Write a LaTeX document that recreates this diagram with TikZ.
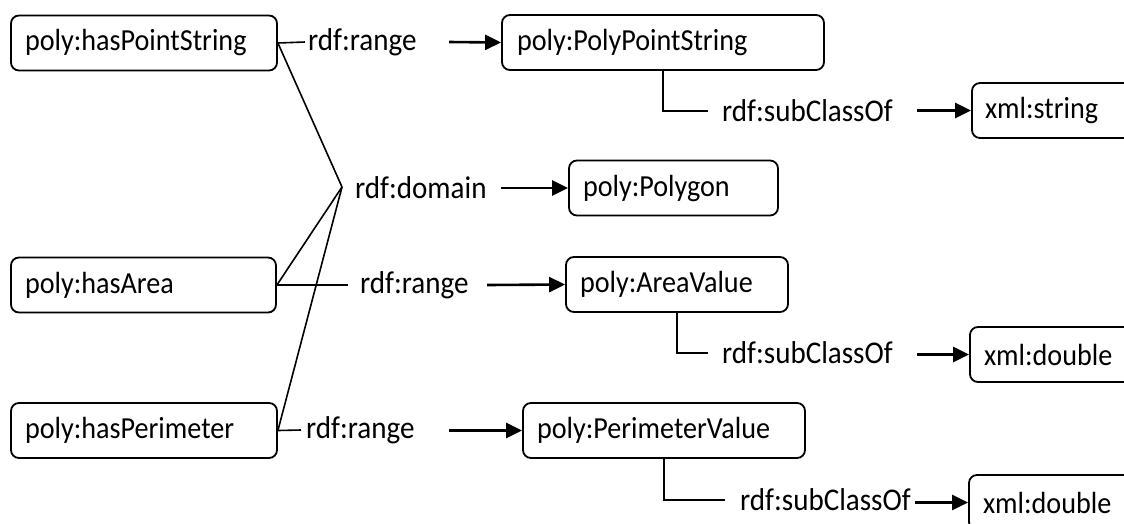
\documentclass[tikz,border=0pt]{standalone}
\usepackage{fontspec}
\setmainfont{Carlito}[FakeStretch=0.92]
\usetikzlibrary{arrows.meta,calc}

\tikzset{
  box/.style={draw=black, line width=1.8pt, rounded corners=8pt,
    minimum height=55pt, inner xsep=14pt, inner ysep=0pt, align=left,
    font=\fontsize{30.6}{34}\selectfont},
  lbl/.style={inner sep=0pt, anchor=west, font=\fontsize{31.6}{35}\selectfont},
  link/.style={draw=black, line width=1.6pt},
  pointer/.style={draw=black, line width=2.6pt,
    -{Triangle[length=16pt,width=15pt]}},
}

\begin{document}
\begin{tikzpicture}[x=1pt,y=-1pt]
\useasboundingbox (0,0) rectangle (1124,523);

% property boxes
\node[box, text width=238pt] (hps) at (144,43)  {poly:hasPointString};
\node[box, text width=237pt] (ha)  at (143.5,285) {poly:hasArea};
\node[box, text width=238pt] (hp)  at (144,430.5) {poly:hasPerimeter};

% class boxes
\node[box, text width=292pt, inner xsep=15pt] (pps) at (663,42.5) {poly:PolyPointString};
\node[box, text width=181pt] (pg)  at (673.5,188) {poly:Polygon};
\node[box, text width=194pt] (av)  at (677,284.5) {poly:AreaValue};
\node[box, text width=254pt] (pv)  at (664,430.5) {poly:PerimeterValue};

% datatype boxes
\node[box, text width=137pt, inner xsep=13pt] (xs)  at (1053.5,110.5) {xml:string};
\node[box, text width=140pt] (xd1) at (1054,354.5) {xml:double};
\node[box, text width=140pt] (xd2) at (1053,502.5) {xml:double};

% predicate labels
\node[lbl] (r1) at (308,42)  {rdf:range};
\node[lbl] (dm) at (355,188) {rdf:domain};
\node[lbl] (r2) at (360,285) {rdf:range};
\node[lbl] (r3) at (306,430) {rdf:range};
\node[lbl] (s1) at (722,111) {rdf:subClassOf};
\node[lbl] (s2) at (722,353) {rdf:subClassOf};
\node[lbl] (s3) at (740,500) {rdf:subClassOf};

% shared domain point
\coordinate (apex) at (342,187);

% domain lines
\draw[link] (hps.east) -- (apex);
\draw[link] (ha.east) -- (apex);
\draw[link] (hp.east) -- (apex);
\draw[pointer] (501,188) -- (pg.west);

% range links
\draw[link] (hps.east) -- ([xshift=-3pt]r1.west);
\draw[pointer] (449,42) -- (pps.west);
\draw[link] (ha.east) -- ([xshift=-12pt]r2.west);
\draw[pointer] (487,285) -- (av.west);
\draw[link] (hp.east) -- ([xshift=-5pt]r3.west);
\draw[pointer] (449,430.5) -- (pv.west);

% subclass links
\draw[link] (pps.south) |- ([xshift=-14pt]s1.west);
\draw[pointer] (917,110.5) -- (xs.west);
\draw[link] (av.south) |- ([xshift=-14pt]s2.west);
\draw[pointer] (917,354.5) -- (xd1.west);
\draw[link] (pv.south) |- ([xshift=-15pt]s3.west);
\draw[pointer] (915,502.5) -- (xd2.west);
\end{tikzpicture}
\end{document}
